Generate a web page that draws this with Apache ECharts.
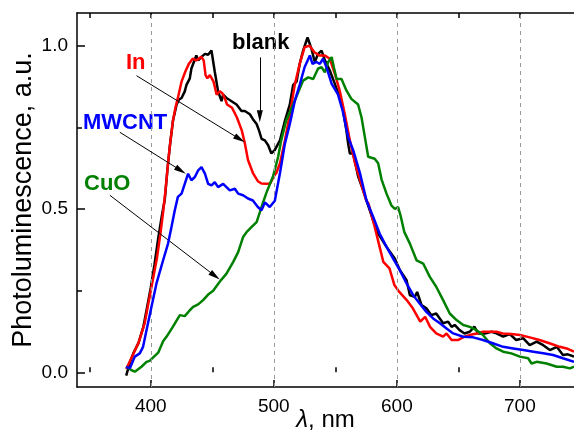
<!DOCTYPE html>
<html>
<head>
<meta charset="utf-8">
<script src="https://cdn.jsdelivr.net/npm/echarts@6/dist/echarts.min.js"></script>
<style>html,body{margin:0;padding:0;background:#fff}#c{width:574px;height:434px}</style>
</head>
<body>
<div id="c"></div>
<script>
// ---- data (wavelength nm, normalized PL) ----
const blankData = [[380,-0.01],[383,0.03],[386,0.06],[390,0.09],[394,0.14],[397,0.2],[400,0.26],[403,0.33],[406,0.41],[409,0.48],[411.4,0.53],[413.5,0.62],[415.4,0.69],[418,0.77],[421,0.82],[423,0.835],[425,0.84],[427.6,0.86],[429,0.88],[431.7,0.9],[433,0.93],[435,0.95],[437,0.97],[438.5,0.955],[441,0.965],[444,0.975],[446.6,0.972],[449.3,0.985],[452,0.92],[454.7,0.86],[457.5,0.83],[458.8,0.85],[461.5,0.84],[463.5,0.835],[465.6,0.83],[469.7,0.82],[473.7,0.8],[476.4,0.8],[480.5,0.79],[483,0.775],[486,0.76],[488,0.74],[490,0.715],[492.7,0.71],[495.4,0.695],[498,0.67],[500.7,0.68],[505,0.71],[509,0.77],[513,0.82],[515.7,0.88],[518.5,0.89],[521,0.944],[523.8,0.985],[527.4,1.025],[530.6,0.99],[533.3,0.95],[536,0.975],[538.8,0.985],[541.5,0.955],[545.5,0.924],[549.6,0.883],[553.7,0.84],[556.4,0.8],[559,0.74],[560.4,0.7],[561.8,0.67],[564.5,0.67],[568.5,0.6],[572.6,0.557],[578,0.496],[580.7,0.465],[584.8,0.425],[591.6,0.384],[598.4,0.348],[602.4,0.313],[607.9,0.282],[610.6,0.236],[614.6,0.231],[616.5,0.246],[620,0.206],[624,0.196],[628,0.175],[632,0.18],[637.6,0.15],[641.7,0.155],[644.5,0.139],[647,0.145],[651,0.129],[655,0.119],[659.3,0.124],[663,0.14],[666,0.119],[671.5,0.119],[677,0.124],[681,0.119],[686.4,0.109],[691.8,0.117],[697,0.099],[702.8,0.104],[708,0.083],[713.6,0.094],[719,0.083],[724.4,0.068],[730,0.078],[735,0.053],[739,0.055],[744,0.048]];

const inData = [[380,0.01],[385,0.05],[390,0.09],[395,0.15],[400,0.25],[405,0.35],[408,0.43],[410,0.49],[412,0.56],[414,0.64],[416,0.71],[418,0.77],[420,0.81],[422,0.84],[425,0.89],[428,0.92],[431,0.945],[434,0.96],[437,0.955],[439,0.96],[441,0.966],[443,0.955],[444.5,0.91],[446,0.9],[448,0.91],[451,0.89],[453.5,0.85],[456,0.86],[458,0.855],[460,0.84],[462,0.82],[466,0.81],[470,0.78],[474,0.74],[476.5,0.7],[479,0.65],[483,0.61],[487,0.585],[490,0.578],[494,0.577],[497,0.578],[500,0.6],[502,0.61],[505,0.64],[509,0.71],[513,0.79],[517,0.88],[521,0.944],[525,0.995],[529,1.0],[533,0.98],[537,0.97],[541.5,0.97],[545.5,0.96],[549.6,0.914],[553.7,0.86],[557.7,0.79],[561.8,0.71],[566,0.64],[570,0.59],[575,0.527],[577,0.516],[582,0.445],[586,0.384],[589,0.338],[594,0.318],[598,0.267],[602,0.246],[608,0.221],[613,0.196],[619,0.155],[623,0.17],[627,0.139],[632,0.119],[637.6,0.109],[640.4,0.119],[644.5,0.099],[650,0.099],[655,0.109],[659,0.114],[665,0.119],[670,0.124],[676,0.124],[681,0.124],[686,0.119],[693,0.117],[700,0.114],[708,0.107],[716,0.099],[724,0.089],[732.5,0.078],[738,0.073],[744,0.063]];

const mwcntData = [[380,0.017],[383,0.012],[387,0.048],[391,0.058],[393.7,0.078],[396.5,0.129],[400.5,0.2],[404.6,0.272],[410,0.343],[414,0.394],[416.8,0.445],[419.5,0.496],[422,0.537],[425,0.547],[427.6,0.577],[430.3,0.608],[433,0.588],[435.8,0.598],[438.5,0.618],[441.2,0.628],[444,0.608],[446.6,0.577],[449.3,0.572],[452,0.582],[454.7,0.567],[458.8,0.577],[461.5,0.567],[464.2,0.557],[468.3,0.562],[471,0.547],[475,0.542],[479,0.532],[483,0.526],[487,0.506],[490,0.496],[492.7,0.52],[496.7,0.506],[500.8,0.525],[505,0.61],[509,0.7],[513,0.76],[517,0.83],[521,0.88],[525,0.934],[529.3,0.97],[531.4,0.944],[534.7,0.95],[537.4,0.944],[540,0.96],[542.8,0.934],[547,0.883],[552,0.852],[556,0.8],[560.4,0.72],[564.5,0.68],[570,0.61],[575.3,0.526],[580.7,0.476],[586,0.425],[591.6,0.384],[597,0.348],[602.4,0.313],[607.9,0.272],[613.3,0.236],[618.7,0.21],[624,0.185],[629.5,0.165],[635,0.15],[640.4,0.134],[645.8,0.119],[654,0.109],[662,0.107],[670,0.099],[678,0.089],[686.4,0.078],[694.6,0.073],[702.8,0.068],[711,0.063],[719,0.058],[727,0.053],[735,0.043],[744,0.032]];

const cuoData = [[380,0.017],[384,0.007],[387,0.002],[392.4,0.017],[396.5,0.032],[399,0.035],[406,0.06],[410,0.095],[413,0.11],[418,0.14],[423.6,0.175],[427.6,0.172],[429,0.175],[431.7,0.19],[434.4,0.2],[436,0.195],[438.5,0.208],[442.5,0.221],[446.6,0.238],[450.7,0.25],[456,0.277],[461.5,0.302],[467,0.338],[471,0.368],[475,0.414],[478,0.43],[482,0.445],[486,0.46],[490,0.506],[494,0.55],[499.4,0.6],[503.5,0.66],[506,0.71],[510,0.77],[515.7,0.82],[519.8,0.857],[523.8,0.893],[527.9,0.903],[532,0.898],[536,0.93],[538.8,0.934],[541.5,0.918],[544.2,0.95],[547,0.965],[548.8,0.934],[551,0.898],[555,0.898],[559,0.863],[563,0.837],[568.5,0.82],[571.3,0.78],[574,0.72],[576.7,0.66],[582,0.654],[584.8,0.64],[587.6,0.59],[591.6,0.547],[595.7,0.51],[598.4,0.5],[601,0.506],[603,0.48],[606,0.43],[610.6,0.394],[616,0.343],[621.4,0.333],[626.8,0.292],[632,0.262],[637.6,0.221],[643,0.18],[648.5,0.16],[654,0.145],[659.3,0.139],[664.8,0.129],[670,0.114],[675.6,0.089],[681,0.073],[686.4,0.063],[693,0.058],[700,0.048],[706.7,0.043],[709.5,0.027],[713.6,0.032],[721.7,0.027],[730,0.017],[735,0.017],[740.7,0.012],[744,0.017]];

const xMajorTicks = [400, 500, 600, 700];
const xMinorTicks = [350, 450, 550, 650];
const yMajorTicks = [0, 0.5, 1.0];
const yMinorTicks = [0.25, 0.75];
const xRange = [340, 744];
const yRange = [-0.045, 1.1];

// annotation arrows: [start, end] in data coordinates
const arrowBlank = [[488.6, 0.964], [488.6, 0.784]];
const arrowIn = [[388.4, 0.908], [472.3, 0.714]];
const arrowMwcnt = [[374.8, 0.735], [424.3, 0.618]];
const arrowCuo = [[366.7, 0.542], [452.2, 0.295]];

const FONT = '"Liberation Sans", Arial, sans-serif';

const chart = echarts.init(document.getElementById('c'), null, {renderer: 'canvas'});

function xAxisBase(extra) {
  return Object.assign({
    type: 'value', min: xRange[0], max: xRange[1],
    splitLine: {show: false},
    axisLine: {show: true, onZero: false, lineStyle: {color: '#000', width: 1.5}},
  }, extra);
}
function yAxisBase(extra) {
  return Object.assign({
    type: 'value', min: yRange[0], max: yRange[1],
    splitLine: {show: false},
    axisLine: {show: true, onZero: false, lineStyle: {color: '#000', width: 1.5}},
  }, extra);
}

function arrowItem(a) {
  return [
    {coord: a[0], symbol: 'none'},
    {coord: a[1], symbol: 'triangle', symbolSize: [6, 12]}
  ];
}

const lineW = 2.5;

chart.setOption({
  animation: false,
  backgroundColor: '#fff',
  grid: {left: 77, right: 0, top: 13, bottom: 47, containLabel: false, outerBoundsMode: 'none'},
  xAxis: [
    xAxisBase({
      position: 'bottom',
      name: '{i|λ}, nm', nameLocation: 'middle', nameGap: 21, nameMoveOverlap: false,
      nameTextStyle: {fontFamily: FONT, fontSize: 24, color: '#000', verticalAlign: 'top',
        rich: {i: {fontFamily: FONT, fontSize: 24, fontStyle: 'italic', color: '#000'}}},
      axisTick: {show: true, inside: true, length: 7, customValues: xMajorTicks, lineStyle: {color: '#000', width: 1.5}},
      axisLabel: {show: true, customValues: xMajorTicks, margin: 10, fontFamily: FONT, fontSize: 19, color: '#000', formatter: v => String(v)}
    }),
    xAxisBase({
      position: 'bottom',
      axisLine: {show: false},
      axisTick: {show: true, inside: true, length: 5, customValues: xMinorTicks, lineStyle: {color: '#000', width: 1.5}},
      axisLabel: {show: false}
    }),
    xAxisBase({
      position: 'top',
      axisTick: {show: true, inside: true, length: 5, customValues: xMajorTicks.concat(xMinorTicks), lineStyle: {color: '#000', width: 1.5}},
      axisLabel: {show: false}
    })
  ],
  yAxis: [
    yAxisBase({
      position: 'left',
      name: 'Photoluminescence, a.u.', nameLocation: 'middle', nameGap: 40, nameRotate: 90, nameMoveOverlap: false,
      nameTextStyle: {fontFamily: FONT, fontSize: 27, color: '#000'},
      axisTick: {show: true, inside: true, length: 8, customValues: yMajorTicks, lineStyle: {color: '#000', width: 1.5}},
      axisLabel: {show: true, customValues: yMajorTicks, margin: 9, fontFamily: FONT, fontSize: 19, color: '#000', formatter: v => v.toFixed(1)}
    }),
    yAxisBase({
      position: 'left',
      axisLine: {show: false},
      axisTick: {show: true, inside: true, length: 5, customValues: yMinorTicks, lineStyle: {color: '#000', width: 1.5}},
      axisLabel: {show: false}
    })
  ],
  series: [
    {
      name: 'blank', type: 'line', xAxisIndex: 0, yAxisIndex: 0, data: blankData,
      showSymbol: false, lineStyle: {color: '#000', width: lineW}, itemStyle: {color: '#000'}, z: 2,
      markLine: {
        silent: true, animation: false,
        label: {show: false},
        lineStyle: {color: '#999', width: 1, type: [4, 4]},
        symbol: 'none',
        data: xMajorTicks.map(v => ({xAxis: v}))
      }
    },
    {
      name: 'In', type: 'line', xAxisIndex: 0, yAxisIndex: 0, data: inData,
      showSymbol: false, lineStyle: {color: '#ff0000', width: lineW}, itemStyle: {color: '#ff0000'}, z: 3,
      markLine: {
        silent: true, animation: false,
        label: {show: false},
        lineStyle: {color: '#000', width: 1, type: 'solid'},
        itemStyle: {color: '#000'},
        data: [arrowItem(arrowBlank), arrowItem(arrowIn), arrowItem(arrowMwcnt), arrowItem(arrowCuo)]
      }
    },
    {
      name: 'CuO', type: 'line', xAxisIndex: 0, yAxisIndex: 0, data: cuoData,
      showSymbol: false, lineStyle: {color: '#008000', width: lineW}, itemStyle: {color: '#008000'}, z: 4
    },
    {
      name: 'MWCNT', type: 'line', xAxisIndex: 0, yAxisIndex: 0, data: mwcntData,
      showSymbol: false, lineStyle: {color: '#0000ff', width: lineW}, itemStyle: {color: '#0000ff'}, z: 5
    }
  ],
  graphic: [
    {type: 'text', x: 232, y: 43, style: {text: 'blank', fill: '#000', font: 'bold 22px ' + FONT, verticalAlign: 'middle'}},
    {type: 'text', x: 126, y: 63, style: {text: 'In', fill: '#ff0000', font: 'bold 22px ' + FONT, verticalAlign: 'middle'}},
    {type: 'text', x: 83, y: 123, style: {text: 'MWCNT', fill: '#0000ff', font: 'bold 22px ' + FONT, verticalAlign: 'middle'}},
    {type: 'text', x: 84, y: 184, style: {text: 'CuO', fill: '#008000', font: 'bold 22px ' + FONT, verticalAlign: 'middle'}}
  ]
});
</script>
</body>
</html>
